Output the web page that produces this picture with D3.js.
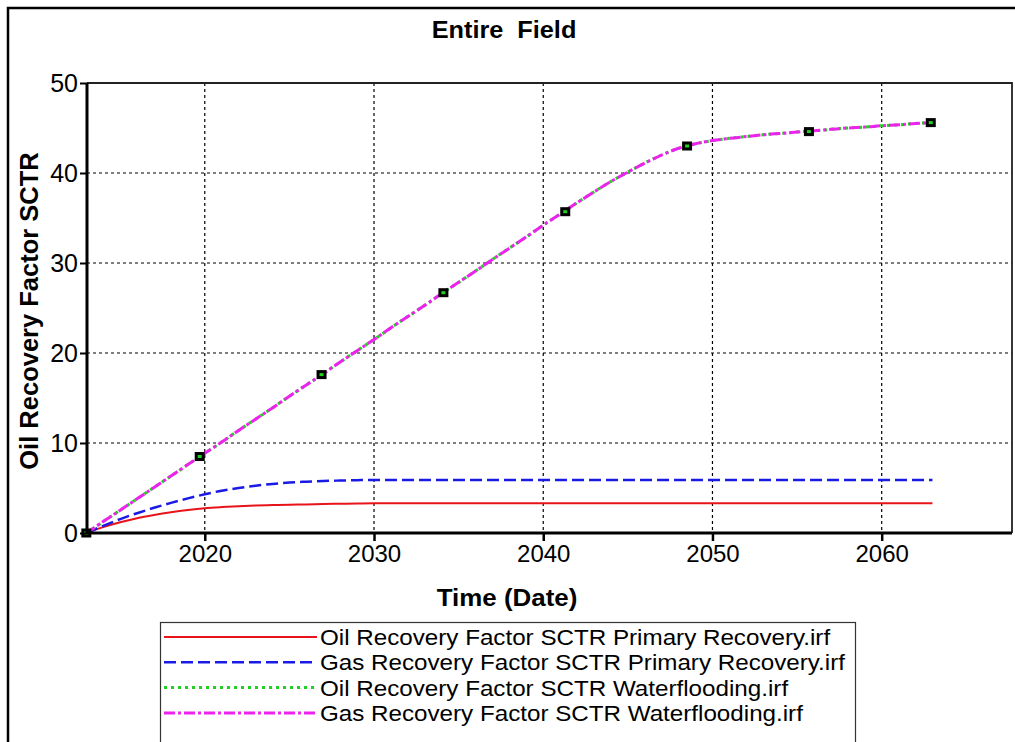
<!DOCTYPE html>
<html>
<head>
<meta charset="utf-8">
<script src="https://cdn.jsdelivr.net/npm/d3@7"></script>
<style>
  html, body { margin: 0; padding: 0; background: #fff; }
  svg { display: block; }
  text { font-family: "Liberation Sans", Arial, sans-serif; fill: #000; }
</style>
</head>
<body>
<svg id="chart" width="1015" height="742"></svg>
<script>
// Simulation years (annual report steps)
const years = [
  2013, 2014, 2015, 2016, 2017, 2018, 2019, 2020, 2021, 2022,
  2023, 2024, 2025, 2026, 2027, 2028, 2029, 2030, 2031, 2032,
  2033, 2034, 2035, 2036, 2037, 2038, 2039, 2040, 2041, 2042,
  2043, 2044, 2045, 2046, 2047, 2048, 2049, 2050, 2051, 2052,
  2053, 2054, 2055, 2056, 2057, 2058, 2059, 2060, 2061, 2062,
  2063
];

// Oil recovery factor, primary recovery case (%)
const oilPrimary = [
  0.0, 0.65, 1.2, 1.65, 2.0, 2.3, 2.55, 2.75, 2.88, 2.98,
  3.05, 3.1, 3.15, 3.18, 3.22, 3.25, 3.28, 3.3, 3.3, 3.3,
  3.3, 3.3, 3.3, 3.3, 3.3, 3.3, 3.3, 3.3, 3.3, 3.3,
  3.3, 3.3, 3.3, 3.3, 3.3, 3.3, 3.3, 3.3, 3.3, 3.3,
  3.3, 3.3, 3.3, 3.3, 3.3, 3.3, 3.3, 3.3, 3.3, 3.3,
  3.3
];

// Gas recovery factor, primary recovery case (%)
const gasPrimary = [
  0.0, 0.8, 1.55, 2.2, 2.8, 3.35, 3.85, 4.3, 4.7, 5.0,
  5.25, 5.45, 5.6, 5.7, 5.78, 5.83, 5.87, 5.9, 5.9, 5.9,
  5.9, 5.9, 5.9, 5.9, 5.9, 5.9, 5.9, 5.9, 5.9, 5.9,
  5.9, 5.9, 5.9, 5.9, 5.9, 5.9, 5.9, 5.9, 5.9, 5.9,
  5.9, 5.9, 5.9, 5.9, 5.9, 5.9, 5.9, 5.9, 5.9, 5.9,
  5.9
];

// Oil recovery factor, waterflooding case (%)
const oilWater = [
  0.0, 1.27, 2.53, 3.8, 5.06, 6.33, 7.6, 8.86, 10.1, 11.4,
  12.65, 13.9, 15.2, 16.45, 17.7, 19.0, 20.25, 21.5, 22.8, 24.05,
  25.3, 26.6, 27.85, 29.1, 30.4, 31.65, 32.9, 34.2, 35.45, 36.7,
  37.9, 39.05, 40.1, 41.1, 42.0, 42.75, 43.25, 43.6, 43.85, 44.05,
  44.25, 44.4, 44.55, 44.7, 44.85, 45.0, 45.1, 45.25, 45.35, 45.5,
  45.6
];

// Gas recovery factor, waterflooding case (%)
const gasWater = [
  0.0, 1.27, 2.53, 3.8, 5.06, 6.33, 7.6, 8.86, 10.1, 11.4,
  12.65, 13.9, 15.2, 16.45, 17.7, 19.0, 20.25, 21.5, 22.8, 24.05,
  25.3, 26.6, 27.85, 29.1, 30.4, 31.65, 32.9, 34.2, 35.45, 36.7,
  37.9, 39.05, 40.1, 41.1, 42.0, 42.75, 43.25, 43.6, 43.85, 44.05,
  44.25, 44.4, 44.55, 44.7, 44.85, 45.0, 45.1, 45.25, 45.35, 45.5,
  45.6
];

// Symbol positions along the waterflooding curves
const markerYears = [2013.0, 2019.7, 2026.9, 2034.1, 2041.3, 2048.5, 2055.7, 2062.9];
const markerValues = [0.0, 8.5, 17.6, 26.7, 35.7, 43.0, 44.6, 45.6];

const xTicks = [2020, 2030, 2040, 2050, 2060];
const yTicks = [0, 10, 20, 30, 40, 50];

const legendLabels = [
  "Oil Recovery Factor SCTR Primary Recovery.irf",
  "Gas Recovery Factor SCTR Primary Recovery.irf",
  "Oil Recovery Factor SCTR Waterflooding.irf",
  "Gas Recovery Factor SCTR Waterflooding.irf"
];

const series = [
  { values: oilPrimary, color: "#e8141a", dash: null,       width: 2,   offset: 0 },
  { values: gasPrimary, color: "#1a1ae6", dash: "12,5",     width: 2.5, offset: 0 },
  { values: oilWater,   color: "#22d022", dash: "3,4",      width: 3,   offset: 0 },
  { values: gasWater,   color: "#ee22ee", dash: "11,3,3,3", width: 3,   offset: 1 }
];

const svg = d3.select("#chart");
const plot = { left: 87, right: 1012, top: 83, bottom: 533 };

const x = d3.scaleLinear().domain([2013.04, 2067.7]).range([plot.left, plot.right]);
const y = d3.scaleLinear().domain([0, 50]).range([plot.bottom, plot.top]);

// Outer frame (top and left edges)
svg.append("path")
  .attr("d", `M8,742 L8,8 L1015,8`)
  .attr("fill", "none").attr("stroke", "#000").attr("stroke-width", 2.5);

// Title
svg.append("text")
  .attr("transform", "translate(504,38) scale(1.1,1)")
  .attr("text-anchor", "middle")
  .style("font-size", "23px").style("font-weight", "bold")
  .style("white-space", "pre")
  .text("Entire  Field");

// Grid lines
const grid = svg.append("g");
grid.selectAll("line.h").data(yTicks.filter(v => v > 0 && v < 50)).enter()
  .append("line")
  .attr("x1", plot.left).attr("x2", plot.right)
  .attr("y1", d => y(d)).attr("y2", d => y(d))
  .attr("stroke", "#000").attr("stroke-width", 1.2).attr("stroke-dasharray", "3,3");
grid.selectAll("line.v").data(xTicks).enter()
  .append("line")
  .attr("x1", d => x(d)).attr("x2", d => x(d))
  .attr("y1", plot.top).attr("y2", plot.bottom)
  .attr("stroke", "#000").attr("stroke-width", 1.2).attr("stroke-dasharray", "3,3");

// Plot frame top and right
svg.append("path")
  .attr("d", `M${plot.left},${plot.top} L${plot.right},${plot.top} L${plot.right},${plot.bottom}`)
  .attr("fill", "none").attr("stroke", "#222").attr("stroke-width", 1.8);

// Curves
const line = d3.line()
  .x((d, i) => x(years[i]))
  .y(d => y(d))
  .curve(d3.curveMonotoneX);

series.forEach(s => {
  svg.append("path")
    .datum(s.values)
    .attr("d", line)
    .attr("fill", "none")
    .attr("stroke", s.color)
    .attr("stroke-width", s.width)
    .attr("stroke-dasharray", s.dash)
    .attr("stroke-dashoffset", s.offset);
});

// Symbols on waterflooding curves
const marks = svg.append("g");
markerYears.forEach((yr, i) => {
  const cx = x(yr), cy = y(markerValues[i]);
  marks.append("rect")
    .attr("x", cx - 5).attr("y", cy - 4.5).attr("width", 10).attr("height", 9)
    .attr("fill", "#000");
  marks.append("rect")
    .attr("x", cx - 2).attr("y", cy - 1.5).attr("width", 4).attr("height", 3)
    .attr("fill", "#22d022");
});

// Axes
const xAxis = d3.axisBottom(x).tickValues(xTicks).tickFormat(d3.format("d"))
  .tickSize(8).tickPadding(4);
const gx = svg.append("g").attr("transform", `translate(0,${plot.bottom})`).call(xAxis);
gx.select(".domain").attr("stroke-width", 3).attr("d", `M${plot.left},0H${plot.right}`);
gx.selectAll(".tick line").attr("stroke-width", 2.5);
gx.selectAll(".tick text").style("font-size", "24px").style("font-family", "Liberation Sans, Arial, sans-serif");

const yAxis = d3.axisLeft(y).tickValues(yTicks).tickFormat(d3.format("d"))
  .tickSize(7).tickPadding(2);
const gy = svg.append("g").attr("transform", `translate(${plot.left},0)`).call(yAxis);
gy.select(".domain").attr("stroke-width", 3).attr("d", `M0,${plot.top}V${plot.bottom}`);
gy.selectAll(".tick line").attr("stroke-width", 2);
gy.selectAll(".tick text").style("font-size", "25px").style("font-family", "Liberation Sans, Arial, sans-serif");

// Axis titles
svg.append("text")
  .attr("transform", "translate(507,606) scale(1.08,1)")
  .attr("text-anchor", "middle")
  .style("font-size", "24px").style("font-weight", "bold")
  .text("Time (Date)");
svg.append("text")
  .attr("transform", "translate(38,311) rotate(-90)")
  .attr("text-anchor", "middle")
  .style("font-size", "25.5px").style("font-weight", "bold")
  .text("Oil Recovery Factor SCTR");

// Legend
const lg = svg.append("g");
lg.append("rect")
  .attr("x", 160.5).attr("y", 622.5).attr("width", 695).attr("height", 130)
  .attr("fill", "#fff").attr("stroke", "#333").attr("stroke-width", 1.2);
legendLabels.forEach((label, i) => {
  const cy = 637 + i * 25.3;
  const s = series[i];
  lg.append("line")
    .attr("x1", 164).attr("x2", 317).attr("y1", cy).attr("y2", cy)
    .attr("stroke", s.color).attr("stroke-width", s.width)
    .attr("stroke-dasharray", s.dash);
  lg.append("text")
    .attr("transform", `translate(320,${cy + 8}) scale(1.1,1)`)
    .style("font-size", "22px")
    .text(label);
});
</script>
</body>
</html>
